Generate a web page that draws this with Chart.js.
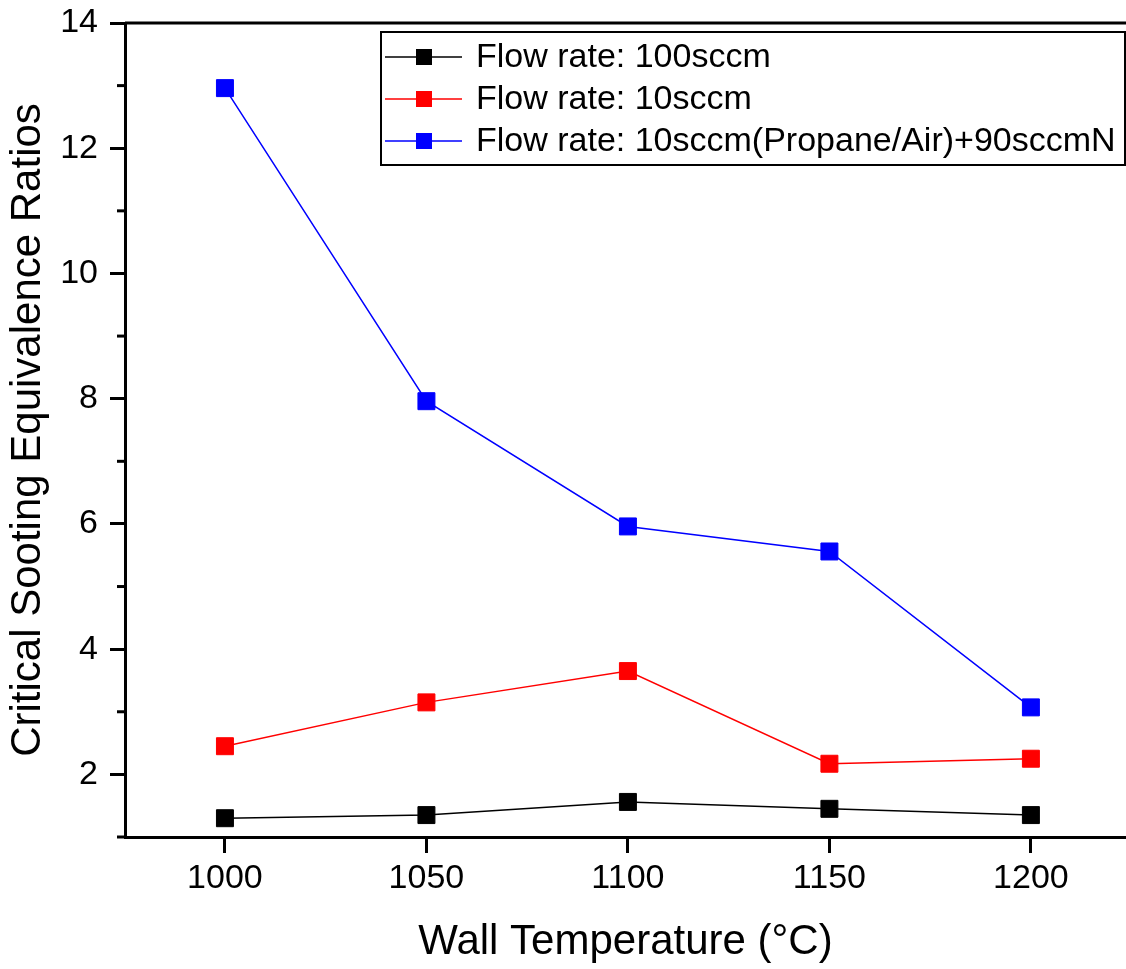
<!DOCTYPE html>
<html>
<head>
<meta charset="utf-8">
<script src="https://cdn.jsdelivr.net/npm/chart.js@4.4.0/dist/chart.umd.min.js"></script>
<style>
  html, body { margin: 0; padding: 0; background: #fff; }
  #wrap { width: 1126px; height: 969px; }
</style>
</head>
<body>
<div id="wrap"><canvas id="sootChart" width="1126" height="969"></canvas></div>
<script>
// Data
const temperatures = [1000, 1050, 1100, 1150, 1200];
const flow100 = [1.3, 1.35, 1.56, 1.45, 1.35];
const flow10 = [2.45, 3.15, 3.65, 2.17, 2.25];
const flow10N2 = [12.96, 7.96, 5.96, 5.56, 3.07];
const xTicks = [1000, 1050, 1100, 1150, 1200];
const yTicks = [2, 4, 6, 8, 10, 12, 14];
const yMinorTicks = [1, 3, 5, 7, 9, 11, 13];
const seriesLabels = [
  "Flow rate: 100sccm",
  "Flow rate: 10sccm",
  "Flow rate: 10sccm(Propane/Air)+90sccmN",
];
const seriesColors = ["#000000", "#ff0000", "#0000ff"];

const FONT = "Arial, 'Liberation Sans', sans-serif";

function makeSeries(i, values) {
  return {
    label: seriesLabels[i],
    data: temperatures.map((t, k) => ({ x: t, y: values[k] })),
    borderColor: seriesColors[i],
    backgroundColor: seriesColors[i],
    borderWidth: 1.5,
    pointStyle: "rect",
    pointRadius: 12,
    pointHoverRadius: 12,
    pointBorderWidth: 1,
    tension: 0,
    clip: false,
  };
}

// extra axis decorations + boxed legend
const decorPlugin = {
  id: "decor",
  afterDraw(chart) {
    const { ctx, chartArea } = chart;
    const y = chart.scales.y;
    ctx.save();
    ctx.strokeStyle = "#000";
    ctx.lineWidth = 3;
    // top frame line
    ctx.beginPath();
    ctx.moveTo(chartArea.left, chartArea.top);
    ctx.lineTo(chartArea.right, chartArea.top);
    ctx.stroke();
    // minor ticks on y
    yMinorTicks.forEach((v) => {
      const py = y.getPixelForValue(v);
      ctx.beginPath();
      ctx.moveTo(chartArea.left - 8, py);
      ctx.lineTo(chartArea.left, py);
      ctx.stroke();
    });

    // legend box
    const bx = 381, by = 32, bw = 744, bh = 133;
    ctx.lineWidth = 2;
    ctx.strokeStyle = "#000";
    ctx.strokeRect(bx, by, bw, bh);
    const rows = [57, 99, 141];
    ctx.font = "34px " + FONT;
    ctx.textBaseline = "middle";
    ctx.textAlign = "left";
    seriesLabels.forEach((lbl, i) => {
      const ry = rows[i];
      ctx.strokeStyle = seriesColors[i];
      ctx.fillStyle = seriesColors[i];
      ctx.lineWidth = 1.5;
      ctx.beginPath();
      ctx.moveTo(385, ry);
      ctx.lineTo(462, ry);
      ctx.stroke();
      ctx.fillRect(416, ry - 8, 16, 16);
      ctx.fillStyle = "#000";
      ctx.fillText(lbl, 476, ry + 1);
    });
    ctx.restore();
  },
};

const ctx = document.getElementById("sootChart").getContext("2d");
const sootChart = new Chart(ctx, {
  type: "line",
  data: {
    datasets: [
      makeSeries(0, flow100),
      makeSeries(1, flow10),
      makeSeries(2, flow10N2),
    ],
  },
  options: {
    responsive: false,
    animation: false,
    layout: { autoPadding: false, padding: { top: 23, right: 0, left: 0, bottom: 0 } },
    plugins: {
      legend: { display: false },
      tooltip: { enabled: false },
    },
    scales: {
      x: {
        type: "linear",
        min: 975.2,
        max: 1223.6,
        afterBuildTicks: (scale) => {
          scale.ticks = xTicks.map((v) => ({ value: v }));
        },
        afterFit: (scale) => {
          scale.height = 132;
          scale.paddingLeft = 0;
          scale.paddingRight = 0;
        },
        grid: {
          drawOnChartArea: false,
          drawTicks: true,
          tickLength: 16,
          lineWidth: 3,
          color: "#000",
        },
        border: { display: true, width: 3, color: "#000" },
        ticks: {
          color: "#000",
          padding: 5,
          maxRotation: 0,
          font: { family: FONT, size: 34 },
          callback: (v) => String(v),
        },
        title: {
          display: true,
          text: "Wall Temperature (°C)",
          color: "#000",
          font: { family: FONT, size: 42 },
          padding: { top: 0, bottom: 1 },
        },
      },
      y: {
        type: "linear",
        min: 1,
        max: 14,
        afterBuildTicks: (scale) => {
          scale.ticks = yTicks.map((v) => ({ value: v }));
        },
        afterFit: (scale) => {
          scale.width = 125;
          scale.paddingTop = 0;
          scale.paddingBottom = 0;
        },
        grid: {
          drawOnChartArea: false,
          drawTicks: true,
          tickLength: 15,
          lineWidth: 3,
          color: "#000",
        },
        border: { display: true, width: 3, color: "#000" },
        ticks: {
          color: "#000",
          padding: 12,
          font: { family: FONT, size: 34 },
          callback: (v) => String(v),
        },
        title: {
          display: true,
          text: "Critical Sooting Equivalence Ratios",
          color: "#000",
          font: { family: FONT, size: 42 },
          padding: { top: 3, bottom: 0 },
        },
      },
    },
  },
  plugins: [decorPlugin],
});
</script>
</body>
</html>
